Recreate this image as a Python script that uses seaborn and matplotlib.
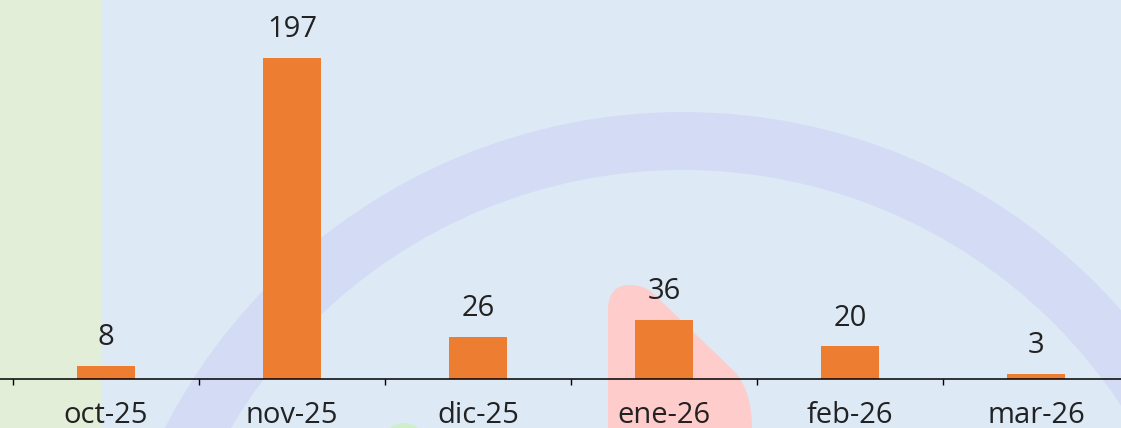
import numpy as np
import matplotlib
matplotlib.use('Agg')
import matplotlib.pyplot as plt
import seaborn as sns
from matplotlib.patches import Rectangle, Wedge, Circle, PathPatch
from matplotlib.path import Path

# data
months = ['oct-25', 'nov-25', 'dic-25', 'ene-26', 'feb-26', 'mar-26']
counts = [8, 197, 26, 36, 20, 3]

sns.set_theme(style='white')
plt.rcParams['font.family'] = ['Open Sans', 'DejaVu Sans']

W, H = 1121, 428
fig = plt.figure(figsize=(W / 100, H / 100), dpi=100)
fig.patch.set_facecolor('#dde9f5')

# background decoration, drawn in pixel coords (y down)
bg = fig.add_axes([0, 0, 1, 1], zorder=0)
bg.set_xlim(0, W)
bg.set_ylim(H, 0)
bg.axis('off')
bg.add_patch(Rectangle((0, 0), 101, H, color='#e2eed8', lw=0))
bg.add_patch(Wedge((683, 695), 583, 0, 360, width=58, color='#d4dcf5', lw=0))
blob = Path(
    [(608, 440), (608, 310), (608, 285), (630, 285), (648, 285), (660, 300),
     (735, 372), (752, 392), (752, 428), (752, 440), (608, 440)],
    [Path.MOVETO, Path.LINETO, Path.CURVE3, Path.CURVE3, Path.CURVE3, Path.CURVE3,
     Path.LINETO, Path.CURVE3, Path.CURVE3, Path.LINETO, Path.CLOSEPOLY])
bg.add_patch(PathPatch(blob, facecolor='#ffcccc', lw=0))
bg.add_patch(Circle((404, 445), 22, color='#cdf0c8', lw=0))

# main chart
ax = fig.add_axes([0, 49 / H, 1, 379 / H], zorder=1)
ax.set_facecolor('none')
sns.barplot(x=months, y=counts, color='#ed7d31', saturation=1, width=0.312,
            edgecolor='none', linewidth=0, ax=ax)
ax.set_xticks(np.arange(-0.5, 5, 1), minor=True)
ax.set_xlim(-0.5 - 13 / 186, -0.5 + (W - 13) / 186)
ax.set_ylim(0, 232.6)
ax.bar_label(ax.containers[0], padding=10, fontsize=21, color='#222222')

for s in ['left', 'top', 'right']:
    ax.spines[s].set_visible(False)
ax.spines['bottom'].set_color('black')
ax.spines['bottom'].set_linewidth(1.1)
ax.set_yticks([])
ax.set_xlabel('')
ax.set_ylabel('')
ax.tick_params(axis='x', which='major', length=0, pad=16, labelsize=21, labelcolor='#222222')
ax.tick_params(axis='x', which='minor', length=4.5, width=1, color='black', direction='out', bottom=True)

fig.savefig('out.png', dpi=100)
